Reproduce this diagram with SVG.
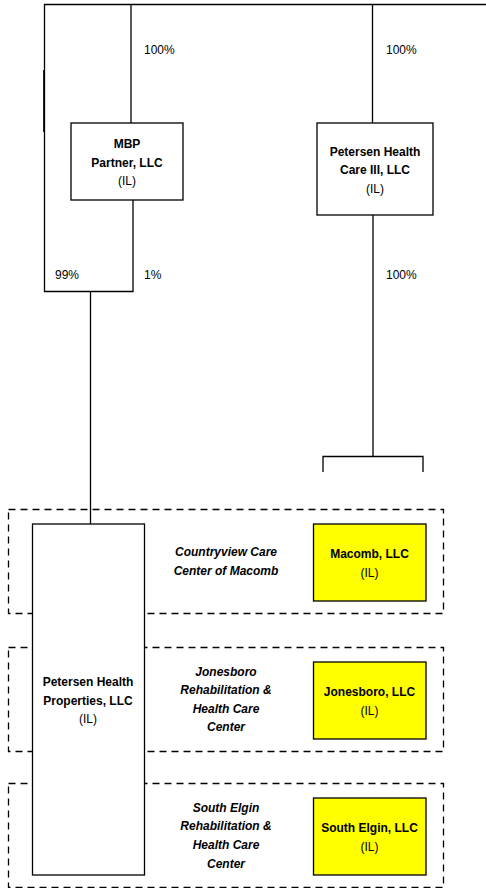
<svg xmlns="http://www.w3.org/2000/svg" width="486" height="888" viewBox="0 0 486 888">
<style>
.ln{fill:none;stroke:#000;stroke-width:1.3}
.dash{fill:none;stroke:#000;stroke-width:1.3;stroke-dasharray:7 5}
.box{fill:#fff;stroke:#000;stroke-width:1.3}
.ybox{fill:#ffff00;stroke:#000;stroke-width:1.3}
text{font-family:"Liberation Sans",Arial,sans-serif;font-size:12px;fill:#000;text-anchor:middle}
.b{font-weight:bold}
.i{font-weight:bold;font-style:italic}
.p{text-anchor:start}
</style>
<rect width="486" height="888" fill="#fff"/>
<g id="groups">
<rect class="dash" x="8.5" y="509.5" width="435" height="104"/>
<rect class="dash" x="8.5" y="647.5" width="435" height="104"/>
<rect class="dash" x="8.5" y="783.5" width="435" height="104"/>
</g>
<g id="connectors">
<path class="ln" d="M486 4.5H44.5V291.5H133V200"/>
<path class="ln" d="M43.8 70V132" stroke-width="2"/>
<path class="ln" d="M131 4.5V123"/>
<path class="ln" d="M372.5 4.5V123"/>
<path class="ln" d="M90.5 291.5V524"/>
<path class="ln" d="M373 215V456.5"/>
<path class="ln" d="M323 472V456.5H423V472"/>
<text class="p" x="144" y="54">100%</text>
<text class="p" x="386" y="54">100%</text>
<text class="p" x="55" y="279">99%</text>
<text class="p" x="144" y="279">1%</text>
<text class="p" x="386" y="279">100%</text>
</g>
<g id="mbp">
<rect class="box" x="71" y="123" width="112" height="77"/>
<text class="b" x="127" y="148">MBP</text>
<text class="b" x="127" y="167">Partner, LLC</text>
<text x="127" y="185">(IL)</text>
</g>
<g id="phc3">
<rect class="box" x="317" y="123" width="116" height="92"/>
<text class="b" x="375" y="156">Petersen Health</text>
<text class="b" x="375" y="174">Care III, LLC</text>
<text x="375" y="193">(IL)</text>
</g>
<g id="php">
<rect class="box" x="32.5" y="524" width="112" height="351"/>
<text class="b" x="88" y="686">Petersen Health</text>
<text class="b" x="88" y="705">Properties, LLC</text>
<text x="88" y="723">(IL)</text>
</g>
<g id="label-macomb">
<text class="i" x="226" y="556">Countryview Care</text>
<text class="i" x="226" y="575">Center of Macomb</text>
</g>
<g id="label-jonesboro">
<text class="i" x="226" y="676">Jonesboro</text>
<text class="i" x="226" y="694">Rehabilitation &amp;</text>
<text class="i" x="226" y="713">Health Care</text>
<text class="i" x="226" y="731">Center</text>
</g>
<g id="label-southelgin">
<text class="i" x="226" y="812">South Elgin</text>
<text class="i" x="226" y="830">Rehabilitation &amp;</text>
<text class="i" x="226" y="849">Health Care</text>
<text class="i" x="226" y="868">Center</text>
</g>
<g id="macomb">
<rect class="ybox" x="313.5" y="524" width="112.5" height="77"/>
<text class="b" x="369.5" y="558">Macomb, LLC</text>
<text x="369.5" y="577">(IL)</text>
</g>
<g id="jonesboro">
<rect class="ybox" x="313.5" y="662" width="112.5" height="77"/>
<text class="b" x="369.5" y="696">Jonesboro, LLC</text>
<text x="369.5" y="715">(IL)</text>
</g>
<g id="southelgin">
<rect class="ybox" x="313.5" y="798" width="112.5" height="77"/>
<text class="b" x="369.5" y="832">South Elgin, LLC</text>
<text x="369.5" y="851">(IL)</text>
</g>
</svg>
